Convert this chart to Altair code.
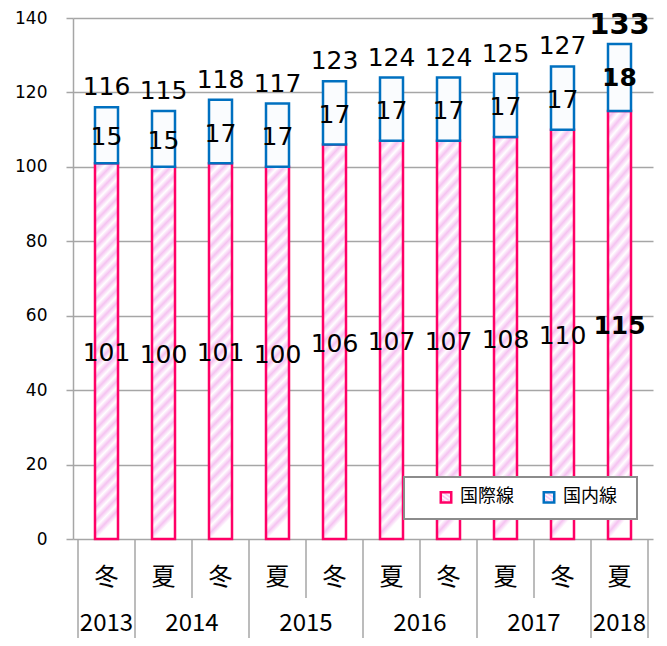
import altair as alt
import pandas as pd

# ---- data ----
seasons = ["冬", "夏", "冬", "夏", "冬", "夏", "冬", "夏", "冬", "夏"]
intl = [101, 100, 101, 100, 106, 107, 107, 108, 110, 115]
dom = [15, 15, 17, 17, 17, 17, 17, 17, 17, 18]
years = ["2013", "2014", "2015", "2016", "2017", "2018"]
year_first_bar = [0, 1, 3, 5, 7, 9]
year_last_bar = [0, 2, 4, 6, 8, 9]
series_names = ["国際線", "国内線"]
y_ticks = [0, 20, 40, 60, 80, 100, 120, 140]

n = len(intl)
W, H = 580, 521
BOTTOM = 99
PINK = "#FF0066"
BLUE = "#0070C0"
GRID = "#A6A6A6"
NUMFONT = "DejaVu Sans"
JPFONT = "Noto Sans CJK JP"

bars = pd.DataFrame({
    "pos": [i + 0.5 for i in range(n)],
    "season": seasons,
    "intl": intl,
    "dom": dom,
})
bars["zero"] = 0
bars["total"] = bars["intl"] + bars["dom"]
bars["intl_mid"] = bars["intl"] / 2
bars["dom_mid"] = bars["intl"] + bars["dom"] / 2
bars["series_i"] = series_names[0]
bars["series_d"] = series_names[1]
bars["last"] = [i == n - 1 for i in range(n)]

yr = pd.DataFrame({
    "year": years,
    "mid": [(a + b + 1) / 2 for a, b in zip(year_first_bar, year_last_bar)],
})
full_bounds = sorted(set(year_first_bar + [b + 1 for b in year_last_bar]))
short_bounds = [i for i in range(1, n) if i not in full_bounds]
full_df = pd.DataFrame({"b": full_bounds})
short_df = pd.DataFrame({"b": short_bounds})

# hatch gradient (diagonal stripes)
def hatch(pink, light, periods=29):
    stops = []
    for k in range(periods):
        stops.append(alt.GradientStop(offset=k / periods, color=light))
        stops.append(alt.GradientStop(offset=(k + 0.5) / periods, color=pink))
    stops.append(alt.GradientStop(offset=1.0, color=light))
    return alt.LinearGradient(gradient="linear", stops=stops, x1=0, y1=0, x2=0.064, y2=1)

xscale = alt.Scale(domain=[0, n], nice=False, zero=False)
xq = alt.X("pos:Q", scale=xscale, axis=None)
yscale = alt.Scale(domain=[0, 140], nice=False)
stroke_scale = alt.Scale(domain=series_names, range=[PINK, BLUE])
legend = alt.Legend(
    title=None, orient="none", legendX=364, legendY=470, direction="horizontal",
    symbolType="square", symbolSize=110, symbolStrokeWidth=2.5, symbolFillColor="white",
    labelFontSize=18, labelFont=JPFONT, labelColor="#000", labelOffset=5,
    columnPadding=24, padding=0,
)

base = alt.Chart(bars)

intl_bar = base.mark_bar(size=23, strokeWidth=2.5, fill=hatch("#F5C2F1", "#FFFFFF")).encode(
    x=xq,
    y=alt.Y("intl:Q", scale=yscale, axis=alt.Axis(
        values=y_ticks, title=None, grid=True, gridColor=GRID, gridWidth=1.5,
        domainColor=GRID, domainWidth=1.5, tickColor=GRID, tickWidth=1.5, tickSize=7,
        labelFontSize=17, labelFont=NUMFONT, labelColor="#000", labelPadding=19)),
    y2="zero:Q",
    stroke=alt.Stroke("series_i:N", scale=stroke_scale, legend=legend),
)
dom_bar = base.mark_bar(size=23, strokeWidth=2.5, fill="#FAFCFE").encode(
    x=xq,
    y=alt.Y("total:Q", scale=yscale),
    y2="intl:Q",
    stroke=alt.Stroke("series_d:N", scale=stroke_scale, legend=legend),
)

normal = base.transform_filter("!datum.last")
emph = base.transform_filter("datum.last")

t_intl = normal.mark_text(font=NUMFONT, fontSize=25, baseline="middle", dy=2, color="#000").encode(
    x=xq, y=alt.Y("intl_mid:Q", scale=yscale), text="intl:Q")
t_intl_b = emph.mark_text(font=NUMFONT, fontSize=25, fontWeight="bold", baseline="middle", dy=1, color="#000").encode(
    x=xq, y=alt.Y("intl_mid:Q", scale=yscale), text="intl:Q")
t_dom = normal.mark_text(font=NUMFONT, fontSize=25, baseline="middle", dy=2, color="#000").encode(
    x=xq, y=alt.Y("dom_mid:Q", scale=yscale), text="dom:Q")
t_dom_b = emph.mark_text(font=NUMFONT, fontSize=25, fontWeight="bold", baseline="middle", dy=0, color="#000").encode(
    x=xq, y=alt.Y("dom_mid:Q", scale=yscale), text="dom:Q")
t_tot = normal.mark_text(font=NUMFONT, fontSize=25, baseline="middle", dy=-20, color="#000").encode(
    x=xq, y=alt.Y("total:Q", scale=yscale), text="total:Q")
t_tot_b = emph.mark_text(font=NUMFONT, fontSize=29, fontWeight="bold", baseline="middle", dy=-19, color="#000").encode(
    x=xq, y=alt.Y("total:Q", scale=yscale), text="total:Q")

t_season = base.mark_text(font=JPFONT, fontSize=24, baseline="middle", color="#000").encode(
    x=xq, y=alt.value(H + 39), text="season:N")
t_year = alt.Chart(yr).mark_text(font=JPFONT, fontSize=24, baseline="middle", color="#000").encode(
    x=alt.X("mid:Q", scale=xscale, axis=None),
    y=alt.value(H + 85), text="year:N")

r_full = alt.Chart(full_df).mark_rule(color=GRID, strokeWidth=1.5).encode(
    x=alt.X("b:Q", scale=xscale, axis=None),
    y=alt.value(H), y2=alt.value(H + BOTTOM))
r_short = alt.Chart(short_df).mark_rule(color=GRID, strokeWidth=1.5).encode(
    x=alt.X("b:Q", scale=xscale, axis=None),
    y=alt.value(H), y2=alt.value(H + 59))

legend_box = alt.Chart(pd.DataFrame({"a": [0]})).mark_rect(
    fill="white", stroke="#8C8C8C", strokeWidth=2).encode(
    x=alt.value(331), x2=alt.value(564), y=alt.value(459), y2=alt.value(501))

chart = alt.layer(
    intl_bar, dom_bar, t_intl, t_intl_b, t_dom, t_dom_b, t_tot, t_tot_b,
    t_season, t_year, r_full, r_short, legend_box,
).properties(
    width=W, height=H,
    autosize=alt.AutoSizeParams(type="none"),
    padding={"left": 65, "top": 10, "right": 6, "bottom": BOTTOM},
).configure_view(stroke=None)

chart.save("out.html", embed_options={"renderer": "svg", "actions": False})
